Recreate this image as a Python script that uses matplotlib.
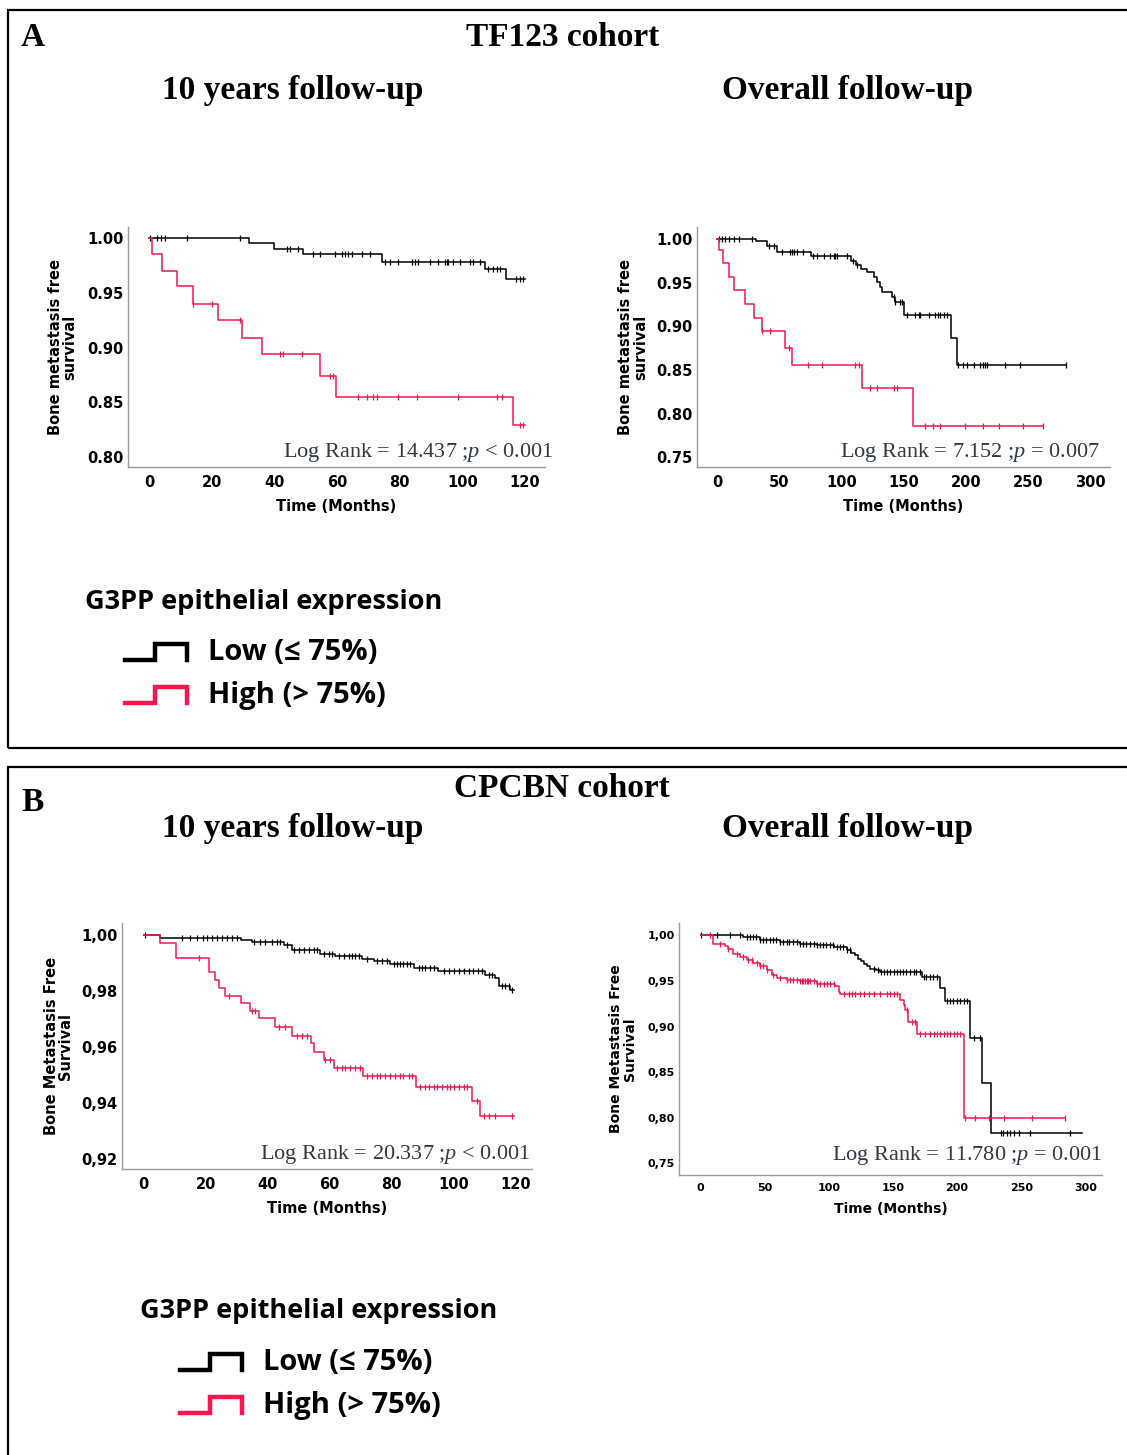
import numpy as np
import matplotlib
matplotlib.use("Agg")
import matplotlib.pyplot as plt
from matplotlib.lines import Line2D
from matplotlib.patches import Rectangle

plt.rcParams['font.family'] = ['DejaVu Sans']
plt.rcParams['mathtext.fontset'] = 'custom'
plt.rcParams['mathtext.rm'] = 'Liberation Serif'
plt.rcParams['mathtext.it'] = 'Liberation Serif:italic'

W, H = 1127, 1455
RED = '#f5174d'
TXT = '#2e3a46'

# ---------------- TF123, 10 years ----------------
a1_low_t = [0, 32, 40, 49, 74.5, 107.4, 114, 120]
a1_low_s = [1.000, 0.995, 0.990, 0.985, 0.978, 0.972, 0.963, 0.963]
a1_low_c = [0.3, 2.4, 3.7, 5.1, 12.0, 29.0, 43.9, 45.0, 47.7, 52.4, 54.6, 59.4, 61.5,
            62.6, 63.6, 64.7, 67.9, 70.5, 75.3, 76.9, 79.6, 83.8, 84.9, 86.0, 89.7,
            92.3, 94.5, 95.0, 95.5, 97.1, 99.3, 102.4, 103.5, 105.6, 108.3, 109.9,
            111.0, 112.0, 117.3, 118.4, 119.5]
a1_high_t = [0, 0.9, 4.0, 8.8, 13.9, 21.9, 29.6, 36.0, 54.6, 59.7, 116.3, 120]
a1_high_s = [1.000, 0.985, 0.970, 0.956, 0.940, 0.925, 0.909, 0.894, 0.874, 0.855,
             0.829, 0.829]
a1_high_c = [14.1, 20.0, 29.0, 41.8, 42.9, 48.7, 57.8, 58.8, 66.8, 69.5, 71.6, 72.7,
             79.6, 85.4, 98.7, 111.0, 112.6, 118.4, 119.5]

# ---------------- TF123, overall ----------------
a2_low_t = [0, 31.6, 40.2, 48.2, 75.5, 107.7, 112, 116, 121, 126, 129, 131, 133, 141,
            143, 150.5, 188, 193, 281]
a2_low_s = [1.000, 0.998, 0.992, 0.9855, 0.980, 0.975, 0.970, 0.966, 0.962, 0.957,
            0.951, 0.945, 0.939, 0.934, 0.928, 0.913, 0.887, 0.856, 0.856]
a2_low_c = [1.3, 4.0, 6.7, 9.4, 13.4, 17.4, 28.1, 41.5, 45.5, 52.2, 58.9, 60.3, 61.6,
            64.3, 69.6, 77.2, 80.4, 85.7, 91.1, 93.8, 95.1, 96.4, 104.5, 109.8, 112.5,
            142, 143.3, 147.3, 148.7, 152.7, 159.4, 162.1, 163.4, 170.1, 175.5, 178.1,
            179.5, 182.2, 184.8, 194.2, 198.2, 200.9, 206.3, 211.6, 214.3, 215.6, 217,
            231.7, 243.8, 281]
a2_high_t = [0, 1.3, 4.8, 9.4, 13.4, 22.8, 30, 36.2, 54.9, 60.3, 116.5, 158, 262.5]
a2_high_s = [1.000, 0.987, 0.972, 0.957, 0.942, 0.926, 0.910, 0.895, 0.875, 0.856,
             0.829, 0.786, 0.786]
a2_high_c = [36.2, 42.9, 57.6, 72.9, 84.4, 111.2, 113.9, 123.2, 128.6, 142, 144.7,
             167.4, 174.1, 179.5, 199.6, 214.3, 226.4, 246.4, 262.5]

# ---------------- CPCBN, 10 years ----------------
b1_low_t = [0, 5.2, 31.4, 35, 45.2, 47.9, 56.8, 61.9, 70.5, 74.3, 79.6, 87.2, 95.2,
            110.3, 113.5, 114.6, 118.4, 119.5]
b1_low_s = [1.0, 0.99917, 0.99845, 0.99762, 0.99667, 0.99465, 0.99346, 0.99263,
            0.99168, 0.99085, 0.9899, 0.98835, 0.98716, 0.98574, 0.98455, 0.98181,
            0.98039, 0.98039]
b1_low_c = [0.5, 12.4, 14.9, 17.2, 19.2, 20.5, 22.1, 23.7, 25.3, 26.9, 28.5, 30.1,
            35.5, 37.7, 39.3, 41.4, 43.0, 44.1, 46.3, 48.4, 50.0, 51.7, 53.3, 54.9,
            56.0, 58.1, 59.7, 60.8, 63.0, 64.6, 66.2, 67.3, 68.3, 69.4, 72.1, 75.3,
            76.9, 78.6, 80.7, 81.8, 82.9, 83.9, 85.0, 86.1, 88.8, 89.9, 91.0, 92.6,
            93.6, 96.9, 98.5, 100.1, 101.7, 103.3, 104.9, 106.5, 108.1, 109.2, 111.4,
            112.5, 115.7, 116.8, 117.9, 118.9]
b1_high_t = [0, 5.2, 10.4, 21, 22.9, 24.2, 26.4, 31.4, 34.4, 37.3, 42.5, 47.9, 54.1,
             55.1, 58.1, 61.3, 70.8, 88, 106, 108.7, 119.5]
b1_high_s = [1.0, 0.99738, 0.99192, 0.98692, 0.98395, 0.98098, 0.97825, 0.97563,
             0.97302, 0.97028, 0.96731, 0.9641, 0.96137, 0.9584, 0.95542, 0.95245,
             0.94984, 0.94568, 0.94056, 0.93545, 0.93545]
b1_high_c = [17.8, 27.4, 35.0, 36.1, 43.6, 45.7, 49.5, 51.1, 52.7, 58.7, 60.3, 62.4,
             64.0, 65.1, 66.7, 68.3, 69.9, 72.1, 73.7, 75.3, 76.4, 78.0, 79.6, 81.3,
             82.9, 83.9, 85.6, 86.7, 89.3, 90.9, 92.0, 93.6, 94.7, 96.3, 97.9, 99.0,
             100.1, 101.7, 103.3, 104.4, 107.6, 109.8, 111.4, 113.5, 118.9]

# ---------------- CPCBN, overall ----------------
b2_low_t = [0, 33, 46, 62, 77.5, 90.5, 103.6, 114, 117, 120, 123, 125, 127, 130, 132,
            137, 140, 172.5, 187, 190.7, 210, 219.4, 226.4, 297.4]
b2_low_s = [1.0, 0.9982, 0.9953, 0.9927, 0.9909, 0.989, 0.987, 0.9836, 0.981, 0.978,
            0.9745, 0.972, 0.969, 0.966, 0.9635, 0.9615, 0.9599, 0.9544, 0.9427,
            0.9281, 0.8876, 0.8383, 0.7828, 0.7828]
b2_low_c = [0, 12.5, 23, 31, 36, 38.5, 41, 43.5, 46, 49, 51, 54, 56.5, 59, 62, 64, 67,
            69, 72, 75, 77.5, 80, 82.5, 85, 88, 90.5, 93, 95.5, 98, 101, 103.5, 106,
            109, 111, 114, 116.5, 135, 138, 140.5, 143, 145.5, 148, 150.5, 153, 155.5,
            158, 160.5, 163, 166, 168, 171, 174, 176, 179, 181.5, 184, 192, 194.5, 197,
            200, 202.5, 205, 207.5, 213, 218, 234, 236, 239, 241.5, 244, 248, 256.5,
            288]
b2_high_t = [0, 10, 19, 21.6, 25.5, 30.7, 36, 41, 46.3, 51.5, 55.4, 59.3, 67, 77.5,
             90.5, 105, 107.5, 108.8, 155.6, 158.2, 159.5, 162, 168.6, 205, 284.4]
b2_high_s = [1.0, 0.9909, 0.988, 0.9854, 0.980, 0.9763, 0.9734, 0.9697, 0.966, 0.9617,
             0.9562, 0.9533, 0.9515, 0.9496, 0.947, 0.9442, 0.938, 0.9354, 0.9288,
             0.9234, 0.9179, 0.9051, 0.8923, 0.7993, 0.7993]
b2_high_c = [7.3, 15.1, 21.6, 28.1, 33.3, 37.2, 39.8, 43.7, 46.3, 48.9, 51.5, 56.7,
             61.9, 67.1, 69.7, 72.3, 74.9, 77.5, 78.8, 80.1, 81.4, 82.7, 84.0, 85.3,
             88.0, 90.6, 93.2, 95.8, 98.4, 101.0, 103.6, 111.4, 115.3, 117.9, 120.5,
             124.4, 127, 130.9, 134.8, 140, 145.2, 147.8, 150.4, 153.0, 160.8, 164.7,
             167.3, 171.2, 175.1, 179.0, 181.6, 184.2, 186.8, 189.4, 192.0, 194.6,
             197.2, 199.8, 202.4, 206.3, 214.2, 224.6, 236.3, 258.4, 284.4]

a_yticks = [0.80, 0.85, 0.90, 0.95, 1.00]
a_ytick_labels = ['0.80', '0.85', '0.90', '0.95', '1.00']
a2_yticks = [0.75, 0.80, 0.85, 0.90, 0.95, 1.00]
a2_ytick_labels = ['0.75', '0.80', '0.85', '0.90', '0.95', '1.00']
b1_yticks = [0.92, 0.94, 0.96, 0.98, 1.00]
b1_ytick_labels = ['0,92', '0,94', '0,96', '0,98', '1,00']
b2_yticks = [0.75, 0.80, 0.85, 0.90, 0.95, 1.00]
b2_ytick_labels = ['0,75', '0,80', '0,85', '0,90', '0,95', '1,00']
x10_ticks = [0, 20, 40, 60, 80, 100, 120]
xall_ticks = [0, 50, 100, 150, 200, 250, 300]

legend_title = 'G3PP epithelial expression'
legend_labels = ['Low (≤ 75%)', 'High (> 75%)']


def px_box(l, r, t, b):
    return [l / W, 1 - b / H, (r - l) / W, (b - t) / H]


def km(ax, t, s, c, color):
    t = np.array(t)
    s = np.array(s)
    ax.step(t, s, where='post', color=color, lw=1.1)
    c = np.array(c)
    idx = np.searchsorted(t, c, side='right') - 1
    ax.plot(c, s[idx], ls='none', marker='|', ms=4, mew=0.9, color=color)


def style(ax, xlim, ylim, xt, yt, ytl, small=False):
    ax.set_xlim(*xlim)
    ax.set_ylim(*ylim)
    ax.set_xticks(xt)
    ax.set_yticks(yt)
    ax.set_yticklabels(ytl)
    for sp in ['top', 'right']:
        ax.spines[sp].set_visible(False)
    for sp in ['left', 'bottom']:
        ax.spines[sp].set_color('#9a9a9a')
        ax.spines[sp].set_linewidth(1.0)
    fs = 8 if small else 10.5
    ax.tick_params(length=0, labelsize=fs, pad=3)
    ax.tick_params(axis='x', pad=6)
    for lab in ax.get_xticklabels() + ax.get_yticklabels():
        lab.set_fontweight('bold')
    ax.set_xlabel('Time (Months)', fontsize=10.5 if not small else 10,
                  fontweight='bold', labelpad=6)


def logrank(ax, txt, x, y):
    ax.text(x, y, txt, transform=ax.transAxes, ha='right', va='center',
            fontsize=16, color=TXT, family='Liberation Serif')


fig = plt.figure(figsize=(W / 100, H / 100), dpi=100)

# panel frames
fig.patches.append(Rectangle((8 / W, 1 - 748 / H), 1.2, (748 - 10) / H,
                             transform=fig.transFigure, fill=False, lw=1.6, ec='black'))
fig.patches.append(Rectangle((8 / W, -0.1), 1.2, 0.1 + (1455 - 767) / H,
                             transform=fig.transFigure, fill=False, lw=1.6, ec='black'))

serif = 'Liberation Serif'
titles = [(33, 38, 'A'), (563, 38, 'TF123 cohort'), (293, 90, '10 years follow-up'),
          (848, 90, 'Overall follow-up'), (33, 802, 'B'), (562, 789, 'CPCBN cohort'),
          (293, 829, '10 years follow-up'), (848, 829, 'Overall follow-up')]
for x, y, s in titles:
    fig.text(x / W, 1 - y / H, s, fontsize=24, fontweight='bold', family=serif,
             ha='center', va='center')

# A1
ax1 = fig.add_axes(px_box(128, 545, 227, 467))
km(ax1, a1_low_t, a1_low_s, a1_low_c, 'black')
km(ax1, a1_high_t, a1_high_s, a1_high_c, RED)
style(ax1, (-6.7, 126.4), (0.791, 1.010), x10_ticks, a_yticks, a_ytick_labels)
ax1.set_ylabel('Bone metastasis free\nsurvival', fontsize=10.5, fontweight='bold',
               linespacing=0.95)
ax1.yaxis.set_label_coords(-0.121, 0.5)
logrank(ax1, r'Log Rank = 14.437 ;$\it{p}$ < $\it{0.001}$', 1.02, 0.062)

# A2
ax2 = fig.add_axes(px_box(697, 1110, 227, 467))
km(ax2, a2_low_t, a2_low_s, a2_low_c, 'black')
km(ax2, a2_high_t, a2_high_s, a2_high_c, RED)
style(ax2, (-16, 316), (0.739, 1.0137), xall_ticks, a2_yticks, a2_ytick_labels)
ax2.set_ylabel('Bone metastasis free\nsurvival', fontsize=10.5, fontweight='bold',
               linespacing=0.95)
ax2.yaxis.set_label_coords(-0.119, 0.5)
logrank(ax2, r'Log Rank = 7.152 ;$\it{p}$ = $\it{0.007}$', 0.976, 0.062)

# B1
ax3 = fig.add_axes(px_box(122, 532, 923, 1169))
km(ax3, b1_low_t, b1_low_s, b1_low_c, 'black')
km(ax3, b1_high_t, b1_high_s, b1_high_c, RED)
style(ax3, (-7.0, 125.4), (0.9164, 1.0044), x10_ticks, b1_yticks, b1_ytick_labels)
ax3.set_ylabel('Bone Metastasis Free\nSurvival', fontsize=10.5, fontweight='bold',
               linespacing=0.95)
ax3.yaxis.set_label_coords(-0.119, 0.5)
logrank(ax3, r'Log Rank = 20.337 ;$\it{p}$ < $\it{0.001}$', 0.995, 0.057)

# B2
ax4 = fig.add_axes(px_box(679, 1102, 923, 1175))
km(ax4, b2_low_t, b2_low_s, b2_low_c, 'black')
km(ax4, b2_high_t, b2_high_s, b2_high_c, RED)
style(ax4, (-16.9, 313), (0.7372, 1.0135), xall_ticks, b2_yticks, b2_ytick_labels,
      small=True)
ax4.set_ylabel('Bone Metastasis Free\nSurvival', fontsize=10, fontweight='bold',
               linespacing=0.95)
ax4.yaxis.set_label_coords(-0.10, 0.5)
logrank(ax4, r'Log Rank = 11.780 ;$\it{p}$ = $\it{0.001}$', 1.0, 0.079)


def legend_block(x0, ytitle, yrows):
    fig.text(x0 / W, 1 - ytitle / H, legend_title, fontsize=19.5, fontweight='bold',
             family=['Open Sans', 'DejaVu Sans'], ha='left', va='center')
    for yc, lab, col in zip(yrows, legend_labels, ['black', RED]):
        ix = x0 + 40
        xs = np.array([ix, ix + 30, ix + 30, ix + 62, ix + 62])
        ys = np.array([yc + 8, yc + 8, yc - 8, yc - 8, yc + 8])
        fig.lines.append(Line2D(xs / W, 1 - ys / H, transform=fig.transFigure,
                                color=col, lw=3.2, solid_joinstyle='miter'))
        fig.text((ix + 83) / W, 1 - yc / H, lab, fontsize=21, fontweight='bold',
                 family=['Open Sans', 'DejaVu Sans'], ha='left', va='center')


legend_block(85, 602, [652, 695])
legend_block(140, 1311, [1362, 1405])

fig.savefig('out.png', dpi=100)
